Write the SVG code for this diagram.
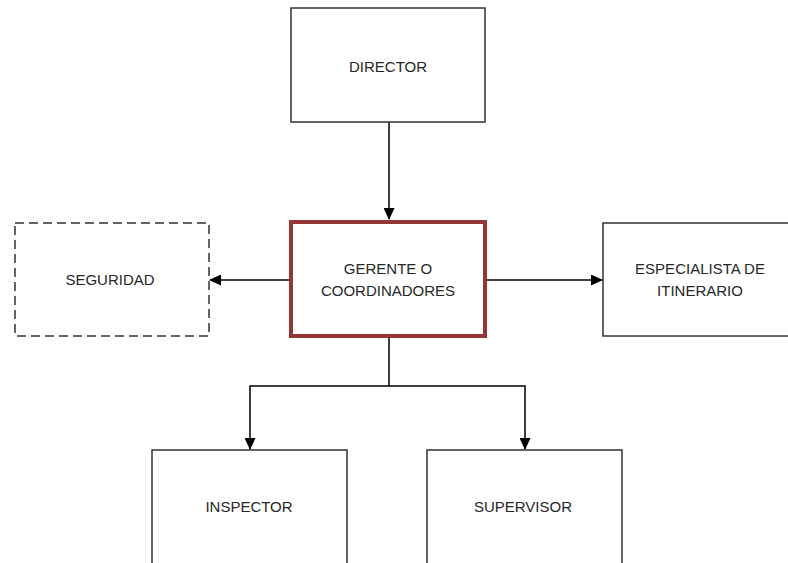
<svg xmlns="http://www.w3.org/2000/svg" width="788" height="563" viewBox="0 0 788 563">
<style>
.box{fill:#fff;stroke:#333;stroke-width:1.5}
.dash{stroke-dasharray:9,5}
.main{fill:#fff;stroke:#943634;stroke-width:4}
.lbl{font-family:"Liberation Sans",Arial,sans-serif;font-size:15px;fill:#262626;text-anchor:middle}
.con{fill:none;stroke:#000;stroke-width:1.5}
</style>
<defs>
<marker id="ah" markerWidth="12" markerHeight="11" refX="11" refY="5.5" orient="auto" markerUnits="userSpaceOnUse">
<path d="M0,0 L12,5.5 L0,11 Z" fill="#000"/>
</marker>
</defs>
<rect width="788" height="563" fill="#fff"/>
<g id="connectors">
<line class="con" x1="389" y1="122" x2="389" y2="219" marker-end="url(#ah)"/>
<line class="con" x1="290" y1="280" x2="210" y2="280" marker-end="url(#ah)"/>
<line class="con" x1="486" y1="280" x2="602" y2="280" marker-end="url(#ah)"/>
<polyline class="con" points="389,337 389,386 250,386 250,449" marker-end="url(#ah)"/>
<polyline class="con" points="389,386 525,386 525,449" marker-end="url(#ah)"/>
</g>
<g id="director">
<rect class="box" x="291" y="8" width="194" height="114"/>
<text class="lbl" x="388" y="72">DIRECTOR</text>
</g>
<g id="seguridad">
<rect class="box dash" x="15" y="223" width="194" height="113"/>
<text class="lbl" x="110" y="285">SEGURIDAD</text>
</g>
<g id="gerente">
<rect class="main" x="291" y="222" width="194" height="114"/>
<text class="lbl" x="388" y="274">GERENTE O</text>
<text class="lbl" x="388" y="296">COORDINADORES</text>
</g>
<g id="especialista">
<rect class="box" x="603" y="223" width="190" height="113"/>
<text class="lbl" x="700" y="274">ESPECIALISTA DE</text>
<text class="lbl" x="700" y="296">ITINERARIO</text>
</g>
<g id="inspector">
<rect class="box" x="152" y="450" width="195" height="120"/>
<text class="lbl" x="249" y="512">INSPECTOR</text>
</g>
<g id="supervisor">
<rect class="box" x="427" y="450" width="195" height="120"/>
<text class="lbl" x="523" y="512">SUPERVISOR</text>
</g>
</svg>
